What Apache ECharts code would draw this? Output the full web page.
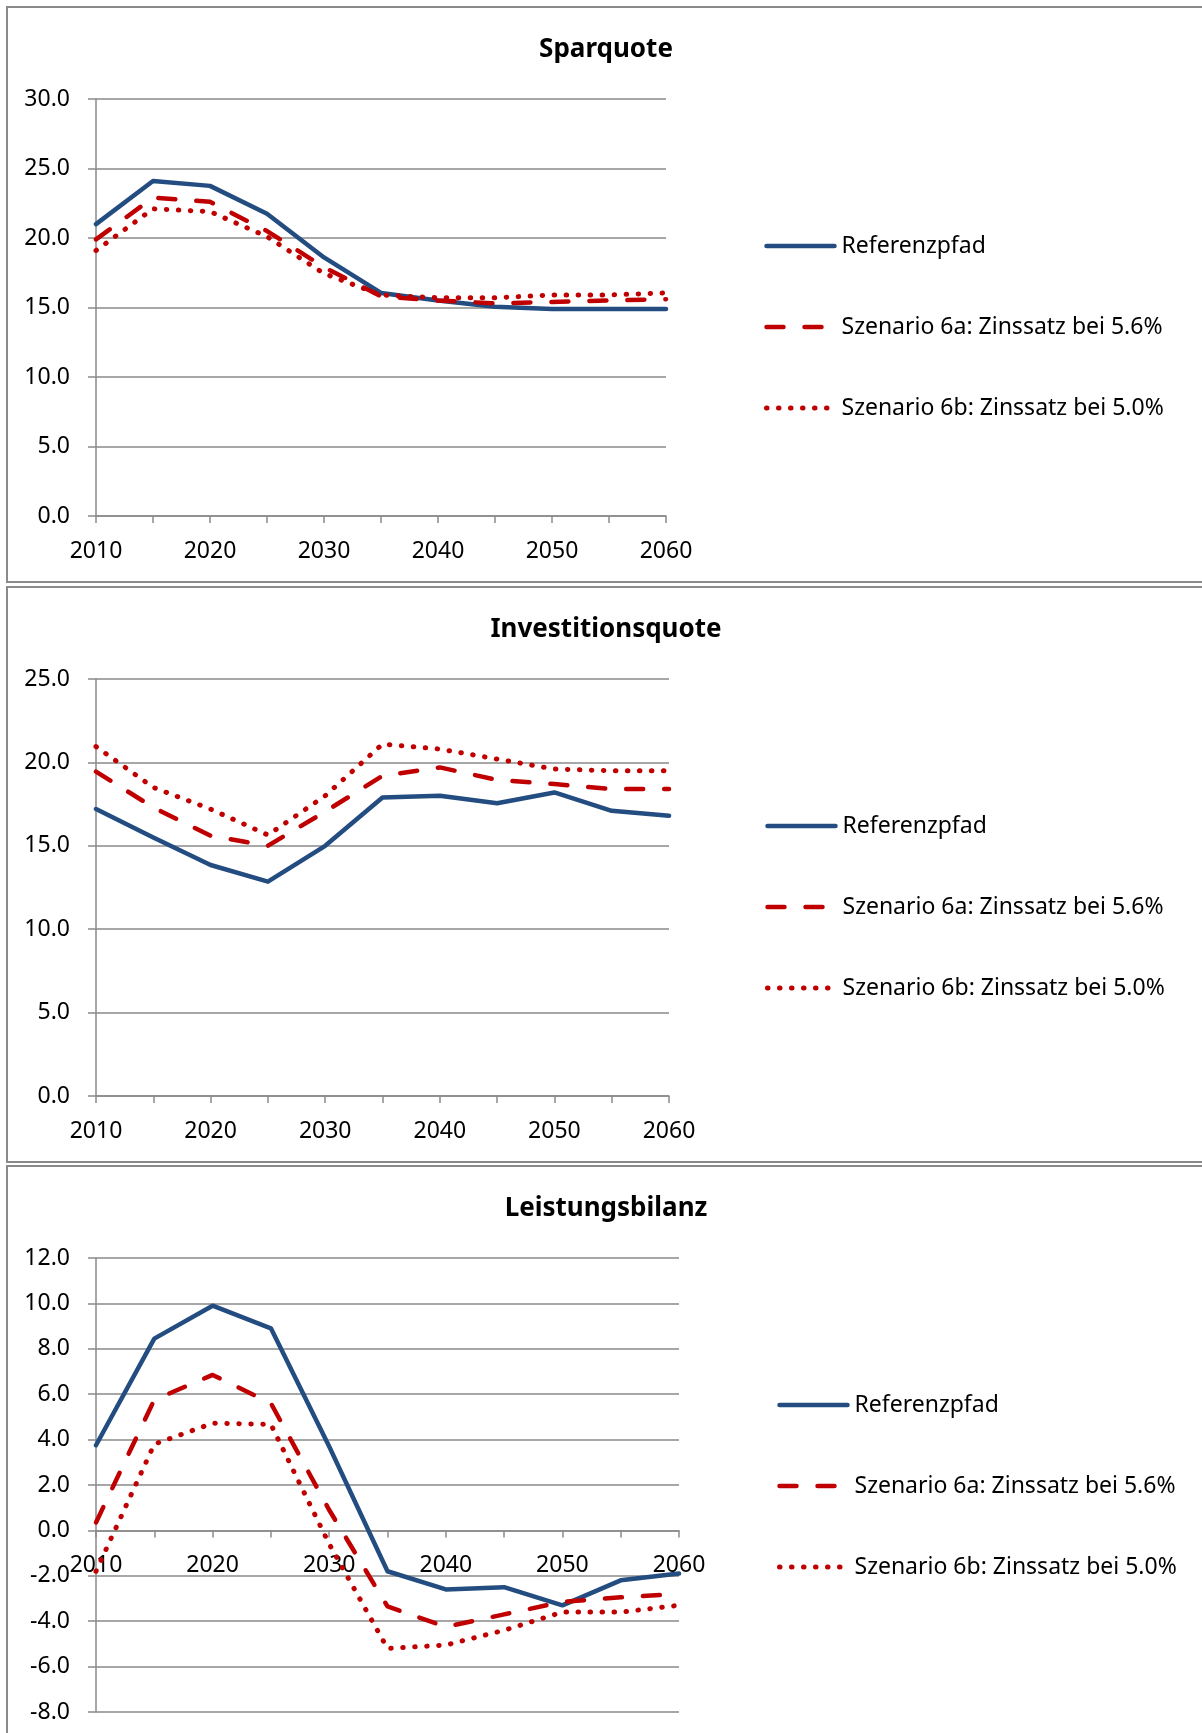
<!DOCTYPE html>
<html>
<head>
<meta charset="utf-8">
<script src="https://cdn.jsdelivr.net/npm/echarts@6/dist/echarts.min.js"></script>
<style>
  html, body { margin: 0; padding: 0; background: #fff; }
  body { position: relative; width: 1202px; height: 1733px; overflow: hidden; }
  .box { position: absolute; left: 6px; width: 1220px; height: 577px; box-sizing: border-box; border: 2px solid #8a8a8a; }
  .chart { position: absolute; left: 0; width: 1202px; height: 577px; }
</style>
</head>
<body>
<div class="box" style="top:6px"></div>
<div class="box" style="top:586px"></div>
<div class="box" style="top:1165px"></div>
<div id="c1" class="chart" style="top:6px"></div>
<div id="c2" class="chart" style="top:586px"></div>
<div id="c3" class="chart" style="top:1165px"></div>
<script>
// Jahre (Kategorien)
const years = ['2010', '2015', '2020', '2025', '2030', '2035', '2040', '2045', '2050', '2055', '2060'];
const names = ['Referenzpfad', 'Szenario 6a: Zinssatz bei 5.6%', 'Szenario 6b: Zinssatz bei 5.0%'];

// Sparquote
const sparRef = [21.0, 24.1, 23.75, 21.75, 18.6, 16.05, 15.5, 15.05, 14.9, 14.9, 14.9];
const sparA   = [19.9, 22.9, 22.6, 20.5, 17.9, 15.8, 15.5, 15.3, 15.4, 15.5, 15.6];
const sparB   = [19.1, 22.1, 21.9, 20.1, 17.45, 15.9, 15.7, 15.7, 15.9, 15.9, 16.05];

// Investitionsquote
const invRef = [17.2, 15.5, 13.85, 12.85, 15.0, 17.9, 18.0, 17.55, 18.2, 17.1, 16.8];
const invA   = [19.45, 17.3, 15.6, 15.0, 17.05, 19.2, 19.7, 18.95, 18.7, 18.4, 18.4];
const invB   = [20.95, 18.5, 17.2, 15.65, 18.0, 21.1, 20.8, 20.2, 19.6, 19.5, 19.5];

// Leistungsbilanz
const lbRef = [3.75, 8.45, 9.9, 8.9, 3.7, -1.8, -2.6, -2.5, -3.3, -2.2, -1.9];
const lbA   = [0.35, 5.75, 6.85, 5.6, 0.9, -3.35, -4.25, -3.7, -3.15, -2.95, -2.8];
const lbB   = [-1.8, 3.8, 4.72, 4.67, -0.6, -5.2, -5.05, -4.4, -3.6, -3.6, -3.3];

const FONT = 'Noto Sans';
const GRAY = '#8a8a8a';
const BLUE = '#234c80';
const RED = '#c00000';

// Linienstile: durchgezogen, gestrichelt, gepunktet
const styles = [
  { color: BLUE, width: 4.5, type: 'solid', cap: 'round', join: 'round' },
  { color: RED, width: 4.5, type: [17, 21], cap: 'round', join: 'round' },
  { color: RED, width: 5, type: [0.5, 11.5], cap: 'round', join: 'round' }
];

function buildOption(title, yMin, yMax, step, gridW, gridH, legendLeft, ref, a, b) {
  const values = [ref, a, b];
  // x-Achse liegt bei 0 (wie im Original), auch wenn min < 0
  const zeroOffset = -gridH * (0 - yMin) / (yMax - yMin);
  return {
    animation: false,
    title: {
      text: title,
      left: 606,
      top: 31,
      textAlign: 'center',
      padding: 0,
      textStyle: { fontFamily: FONT, fontSize: 26, fontWeight: 'bold', color: '#000' }
    },
    legend: {
      data: names.map(function (n, i) {
        return { name: n, lineStyle: styles[i], itemStyle: { opacity: 0 } };
      }),
      orient: 'vertical',
      left: legendLeft,
      top: 228,
      padding: 0,
      itemWidth: 68,
      itemHeight: 14,
      itemGap: 57,
      textStyle: { fontFamily: FONT, fontSize: 23, lineHeight: 24, color: '#000', padding: [0, 0, 0, 2] }
    },
    grid: { left: 96, top: 93, width: gridW, height: gridH, outerBoundsMode: 'none', containLabel: false },
    xAxis: {
      type: 'category',
      data: years,
      boundaryGap: false,
      position: 'bottom',
      offset: zeroOffset,
      axisLine: { onZero: false, lineStyle: { color: GRAY, width: 1.5 } },
      axisTick: { interval: 0, length: 7, lineStyle: { color: GRAY, width: 1.5 } },
      axisLabel: { interval: 1, margin: 24, fontFamily: FONT, fontSize: 23, color: '#000' },
      splitLine: { show: false }
    },
    yAxis: {
      type: 'value',
      min: yMin,
      max: yMax,
      interval: step,
      axisLine: { show: true, lineStyle: { color: GRAY, width: 1.5 } },
      axisTick: { show: true, length: 8, lineStyle: { color: GRAY, width: 1.5 } },
      axisLabel: {
        margin: 26, fontFamily: FONT, fontSize: 23, color: '#000',
        formatter: function (v) { return v.toFixed(1); }
      },
      splitLine: { lineStyle: { color: GRAY, width: 1.5 } }
    },
    series: values.map(function (d, i) {
      return {
        name: names[i],
        type: 'line',
        data: d,
        symbol: 'none',
        lineStyle: styles[i],
        itemStyle: { color: styles[i].color }
      };
    })
  };
}

var chart1 = echarts.init(document.getElementById('c1'));
var chart2 = echarts.init(document.getElementById('c2'));
var chart3 = echarts.init(document.getElementById('c3'));

chart1.setOption(buildOption('Sparquote', 0, 30, 5, 570, 417, 764, sparRef, sparA, sparB));
chart2.setOption(buildOption('Investitionsquote', 0, 25, 5, 573, 417, 765, invRef, invA, invB));
chart3.setOption(buildOption('Leistungsbilanz', -8, 12, 2, 583, 454, 777, lbRef, lbA, lbB));
</script>
</body>
</html>
